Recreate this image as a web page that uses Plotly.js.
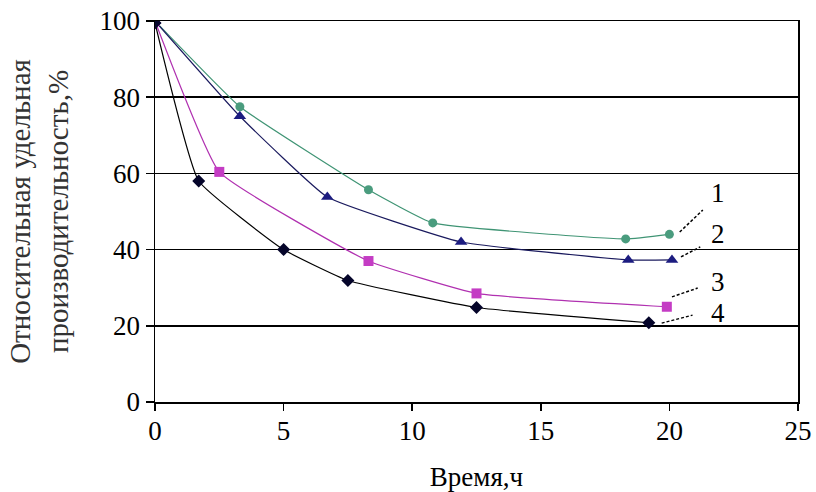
<!DOCTYPE html>
<html>
<head>
<meta charset="utf-8">
<script src="https://cdn.plot.ly/plotly-3.0.1.min.js"></script>
<style>html,body{margin:0;padding:0;background:#fff;}#chart{width:816px;height:492px;}</style>
</head>
<body>
<div id="chart"></div>
<script>
// Series data (time in hours, relative specific productivity in %)
var time1 = [0, 3.3, 8.3, 10.8, 18.3, 20.0];
var prod1 = [100, 77.5, 55.7, 47, 42.8, 44];
var time2 = [0, 3.3, 6.7, 11.9, 18.4, 20.1];
var prod2 = [100, 75, 53.8, 42, 37.3, 37.3];
var time3 = [0, 2.5, 8.3, 12.5, 19.9];
var prod3 = [100, 60.4, 37, 28.5, 25];
var time4 = [0, 1.7, 5.0, 7.5, 12.5, 19.2];
var prod4 = [99.5, 58, 40, 31.9, 24.8, 20.8];

var seriesLabels = ["1", "2", "3", "4"];
var labelX = [21.9, 21.9, 21.9, 21.9];
var labelY = [54.9, 44.1, 31.5, 23.4];
var leaderX0 = [20.4, 20.45, 20.1, 19.7];
var leaderY0 = [44.6, 38.1, 27.6, 20.7];
var leaderX1 = [21.3, 21.2, 21.1, 20.9];
var leaderY1 = [50.4, 40.7, 29.9, 22.8];

var xTicks = [0, 5, 10, 15, 20, 25];
var yTicks = [0, 20, 40, 60, 80, 100];

var FONT = "Liberation Serif";

function tr(x, y, lineColor, markerColor, symbol, size) {
  return {
    x: x, y: y, type: "scatter", mode: "lines+markers",
    line: {color: lineColor, width: 1.2, shape: "spline", smoothing: 0.35},
    marker: {color: markerColor, symbol: symbol, size: size},
    showlegend: false, hoverinfo: "skip"
  };
}

var data = [
  tr(time1, prod1, "#3f9474", "#4a9c7e", "circle", 9),
  tr(time2, prod2, "#1a1a5e", "#1c1c80", "triangle-up", 11),
  tr(time3, prod3, "#b030b0", "#c43cc4", "square", 10),
  tr(time4, prod4, "#000000", "#05052a", "diamond", 10),
  {x: [], y: [], type: "scatter", mode: "markers", xaxis: "x2", yaxis: "y", showlegend: false, hoverinfo: "skip"}
];

var shapes = [];
var annotations = [];
for (var i = 0; i < seriesLabels.length; i++) {
  shapes.push({
    type: "line", xref: "x", yref: "y",
    x0: leaderX0[i], y0: leaderY0[i], x1: leaderX1[i], y1: leaderY1[i],
    line: {color: "#000", width: 1.5, dash: "3px,2px"}
  });
  annotations.push({
    x: labelX[i], y: labelY[i], xref: "x", yref: "y",
    text: seriesLabels[i], showarrow: false,
    font: {family: FONT, size: 27, color: "#000"}
  });
}

var layout = {
  width: 816, height: 492,
  margin: {l: 155, r: 18, t: 21, b: 90},
  paper_bgcolor: "#fff", plot_bgcolor: "#fff",
  font: {family: FONT, size: 27, color: "#000"},
  xaxis: {
    range: [0, 25], tickvals: xTicks, ticktext: xTicks.map(String),
    showgrid: false, zeroline: false,
    showline: true, mirror: true, linecolor: "#000", linewidth: 1.5,
    ticks: "", ticklabelstandoff: 4,
    tickfont: {family: FONT, size: 27, color: "#000"},
    title: {text: "Время,ч", font: {family: FONT, size: 27, color: "#000"}, standoff: 30}
  },
  xaxis2: {
    range: [0, 25], tickvals: xTicks, overlaying: "x", anchor: "y", side: "bottom",
    showgrid: false, zeroline: false, showline: false, showticklabels: false,
    ticks: "outside", ticklen: 8, tickwidth: 1.5, tickcolor: "#000"
  },
  yaxis: {
    range: [0, 100], tickvals: yTicks, ticktext: yTicks.map(String),
    showgrid: true, gridcolor: "#000", gridwidth: 1.5, zeroline: false,
    showline: true, mirror: true, linecolor: "#000", linewidth: 1.5,
    ticks: "outside", ticklen: 8, tickwidth: 1.5, tickcolor: "#000",
    tickfont: {family: FONT, size: 27, color: "#000"},
    title: {text: "Относительная удельная<br>производительность,%", font: {family: FONT, size: 29, color: "#333"}, standoff: 22}
  },
  shapes: shapes,
  annotations: annotations
};

Plotly.newPlot("chart", data, layout, {displayModeBar: false, staticPlot: true});
</script>
</body>
</html>
